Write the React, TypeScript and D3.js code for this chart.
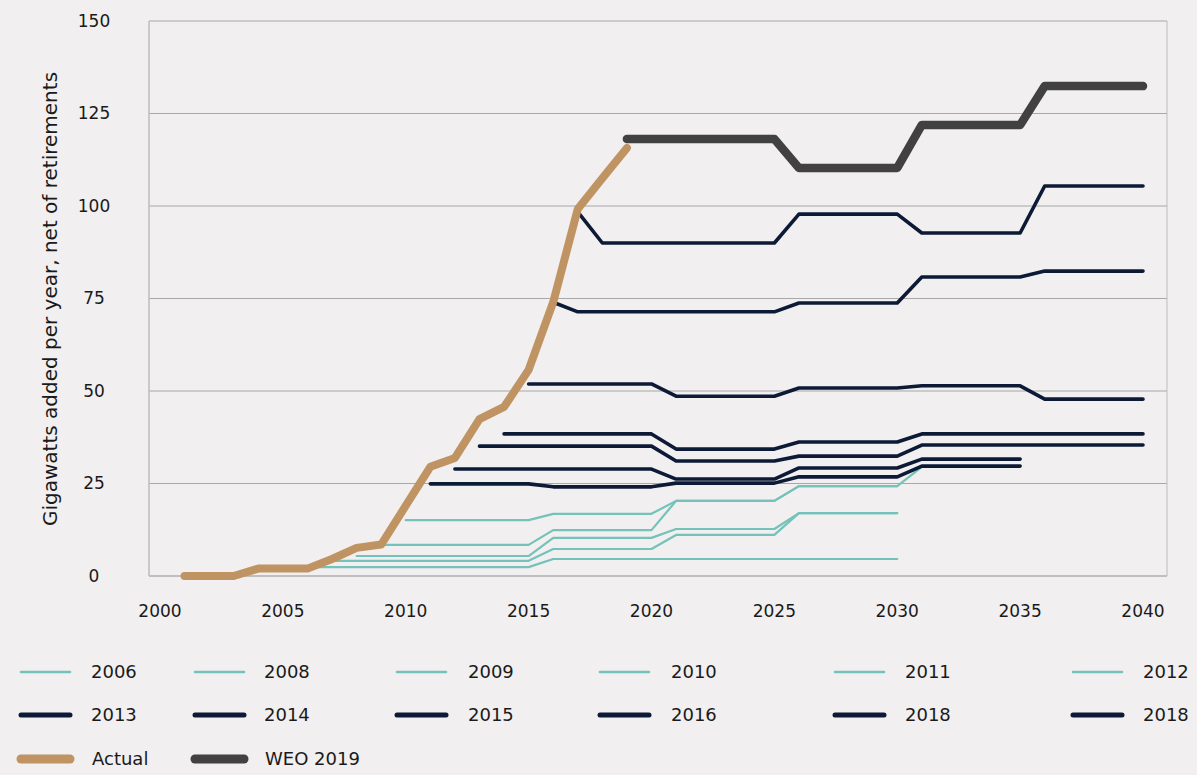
import React, { useEffect } from "react";
import * as d3 from "d3";

// ---------- data ----------
const xTicks = [2000, 2005, 2010, 2015, 2020, 2025, 2030, 2035, 2040];
const yTicks = [0, 25, 50, 75, 100, 125, 150];

const actualYears = [2001, 2002, 2003, 2004, 2005, 2006, 2007, 2008, 2009, 2010, 2011, 2012, 2013, 2014, 2015, 2016, 2017, 2018, 2019];
const actualValues = [0, 0, 0, 2.0, 2.0, 2.0, 4.6, 7.6, 8.5, 19, 29.5, 31.9, 42.4, 45.7, 55.7, 74, 99.2, 107.5, 115.7];

const weoYears = [2019, 2025, 2026, 2030, 2031, 2035, 2036, 2040];
const weoValues = [118.1, 118.1, 110.3, 110.3, 121.9, 121.9, 132.4, 132.4];

// teal (older outlooks)
const t2006Years = [2006, 2015, 2016, 2030];
const t2006Values = [2.4, 2.4, 4.6, 4.6];
const t2007Years = [2007, 2015, 2016, 2020, 2021, 2025, 2026, 2030];
const t2007Values = [4.1, 4.1, 7.3, 7.3, 11.1, 11.1, 17.0, 17.0];
const t2008Years = [2008, 2015, 2016, 2020, 2021, 2025, 2026, 2030];
const t2008Values = [5.4, 5.4, 10.3, 10.3, 12.7, 12.7, 17.0, 17.0];
const t2009Years = [2009, 2015, 2016, 2020, 2021, 2025, 2026, 2030];
const t2009Values = [8.4, 8.4, 12.4, 12.4, 20.3, 20.3, 24.3, 24.3];
const t2010Years = [2010, 2015, 2016, 2020, 2021, 2025, 2026, 2030, 2031];
const t2010Values = [15.1, 15.1, 16.8, 16.8, 20.3, 20.3, 24.3, 24.3, 29.5];

// navy (newer outlooks)
const n2011Years = [2011, 2015, 2016, 2020, 2021, 2025, 2026, 2030, 2031, 2035];
const n2011Values = [24.9, 24.9, 24.1, 24.1, 25.1, 25.1, 26.8, 26.8, 29.7, 29.7];
const n2012Years = [2012, 2020, 2021, 2025, 2026, 2030, 2031, 2035];
const n2012Values = [28.9, 28.9, 26.2, 26.2, 29.2, 29.2, 31.6, 31.6];
const n2013Years = [2013, 2020, 2021, 2025, 2026, 2030, 2031, 2040];
const n2013Values = [35.1, 35.1, 31.1, 31.1, 32.4, 32.4, 35.4, 35.4];
const n2014Years = [2014, 2020, 2021, 2025, 2026, 2030, 2031, 2040];
const n2014Values = [38.4, 38.4, 34.3, 34.3, 36.2, 36.2, 38.4, 38.4];
const n2015Years = [2015, 2020, 2021, 2025, 2026, 2030, 2031, 2035, 2036, 2040];
const n2015Values = [51.9, 51.9, 48.6, 48.6, 50.8, 50.8, 51.4, 51.4, 47.8, 47.8];
const n2016Years = [2016, 2017, 2025, 2026, 2030, 2031, 2035, 2036, 2040];
const n2016Values = [74, 71.4, 71.4, 73.8, 73.8, 80.8, 80.8, 82.4, 82.4];
const n2017Years = [2017, 2018, 2025, 2026, 2030, 2031, 2035, 2036, 2040];
const n2017Values = [98.4, 90, 90, 97.8, 97.8, 92.7, 92.7, 105.4, 105.4];

const tealLegend = ["2006", "2008", "2009", "2010", "2011", "2012"];
const navyLegend = ["2013", "2014", "2015", "2016", "2018", "2018"];
const bottomLegend = ["Actual", "WEO 2019"];

// ---------- styles ----------
const TEAL = "#74c2ba";
const NAVY = "#0c1a36";
const TAN = "#c09462";
const DARK = "#414141";
const BG = "#f1eff0";
const TEXT = "#1a1a1a";
const FONT = "'DejaVu Sans', sans-serif";

const W = 1197;
const H = 775;
const plotLeft = 149;
const plotRight = 1167;

const x = d3.scaleLinear().domain([2000, 2040]).range([160, 1143]);
const y = d3.scaleLinear().domain([0, 150]).range([576, 21]);

const line = d3
  .line<[number, number]>()
  .x((d) => x(d[0]))
  .y((d) => y(d[1]));

const zip = (ys: number[], vs: number[]) => ys.map((yr, i) => [yr, vs[i]] as [number, number]);

const tealSeries = [
  zip(t2006Years, t2006Values),
  zip(t2007Years, t2007Values),
  zip(t2008Years, t2008Values),
  zip(t2009Years, t2009Values),
  zip(t2010Years, t2010Values),
];
const navySeries = [
  zip(n2011Years, n2011Values),
  zip(n2012Years, n2012Values),
  zip(n2013Years, n2013Values),
  zip(n2014Years, n2014Values),
  zip(n2015Years, n2015Values),
  zip(n2016Years, n2016Values),
  zip(n2017Years, n2017Values),
];

const legendLineX = [21, 195, 397, 600, 835, 1073];
const legendTextX = [91, 264, 468, 671, 905, 1143];

export default function App() {
  useEffect(() => {
    document.body.style.margin = "0";
    document.body.style.background = BG;
  }, []);

  return (
    <svg width={W} height={H} style={{ display: "block", background: BG }} fontFamily={FONT}>
      <rect x={0} y={0} width={W} height={H} fill={BG} />
      {/* gridlines */}
      {yTicks
        .filter((t) => t > 0)
        .map((t) => (
          <line key={t} x1={plotLeft} x2={plotRight} y1={y(t)} y2={y(t)} stroke="#a8a8a8" strokeWidth={1} />
        ))}
      <line x1={plotLeft} x2={plotLeft} y1={y(150)} y2={y(0)} stroke="#bdbdbd" strokeWidth={1.5} />
      <line x1={plotRight} x2={plotRight} y1={y(150)} y2={y(0)} stroke="#bdbdbd" strokeWidth={1} />
      <line x1={plotLeft} x2={plotRight} y1={y(0)} y2={y(0)} stroke="#bfbfbf" strokeWidth={2} />

      {/* y tick labels */}
      {yTicks.map((t) => (
        <text key={t} x={94} y={y(t)} dy="0.35em" textAnchor="middle" fontSize={17} fill={TEXT}>
          {t}
        </text>
      ))}
      {/* x tick labels */}
      {xTicks.map((t) => (
        <text key={t} x={x(t)} y={611} dy="0.35em" textAnchor="middle" fontSize={17} fill={TEXT}>
          {t}
        </text>
      ))}
      <text
        transform={`translate(50,299) rotate(-90)`}
        textAnchor="middle"
        dy="0.35em"
        fontSize={20}
        fill={TEXT}
      >
        Gigawatts added per year, net of retirements
      </text>

      {/* series */}
      {tealSeries.map((s, i) => (
        <path key={"t" + i} d={line(s) || ""} fill="none" stroke={TEAL} strokeWidth={2.2} strokeLinejoin="round" strokeLinecap="round" />
      ))}
      {navySeries.map((s, i) => (
        <path key={"n" + i} d={line(s) || ""} fill="none" stroke={NAVY} strokeWidth={3.6} strokeLinejoin="round" strokeLinecap="round" />
      ))}
      <path d={line(zip(actualYears, actualValues)) || ""} fill="none" stroke={TAN} strokeWidth={8} strokeLinejoin="round" strokeLinecap="round" />
      <path d={line(zip(weoYears, weoValues)) || ""} fill="none" stroke={DARK} strokeWidth={8.5} strokeLinejoin="round" strokeLinecap="round" />

      {/* legend */}
      {tealLegend.map((l, i) => (
        <g key={"lt" + i}>
          <line x1={legendLineX[i]} x2={legendLineX[i] + 49} y1={672} y2={672} stroke={TEAL} strokeWidth={2.5} strokeLinecap="round" />
          <text x={legendTextX[i]} y={672} dy="0.35em" fontSize={18} fill={TEXT}>{l}</text>
        </g>
      ))}
      {navyLegend.map((l, i) => (
        <g key={"ln" + i}>
          <line x1={legendLineX[i]} x2={legendLineX[i] + 49} y1={715} y2={715} stroke={NAVY} strokeWidth={5} strokeLinecap="round" />
          <text x={legendTextX[i]} y={715} dy="0.35em" fontSize={18} fill={TEXT}>{l}</text>
        </g>
      ))}
      {bottomLegend.map((l, i) => (
        <g key={"lb" + i}>
          <line x1={[21, 195][i]} x2={[21, 195][i] + 49} y1={759} y2={759} stroke={i === 0 ? TAN : DARK} strokeWidth={9} strokeLinecap="round" />
          <text x={[92, 265][i]} y={759} dy="0.35em" fontSize={18} fill={TEXT}>{l}</text>
        </g>
      ))}
    </svg>
  );
}
